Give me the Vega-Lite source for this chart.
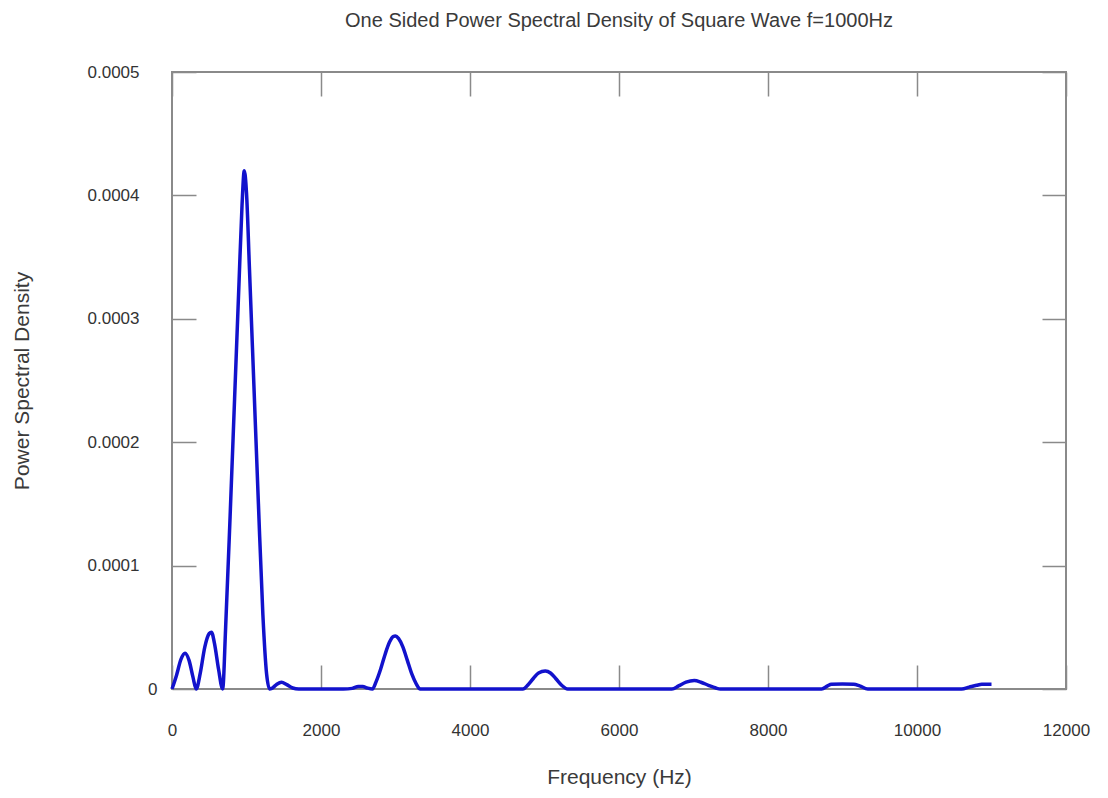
{
  "$schema": "https://vega.github.io/schema/vega-lite/v6.json",
  "width": 894,
  "height": 617,
  "autosize": {"type": "none"},
  "padding": {"left": 172, "top": 72, "right": 42, "bottom": 109},
  "background": "white",
  "title": {"text": "One Sided Power Spectral Density of Square Wave f=1000Hz", "fontSize": 20, "font": "Liberation Sans", "fontWeight": "normal", "color": "#3a3a3a", "offset": 32, "anchor": "middle"},
  "config": {
    "view": {"stroke": "#8a8a8a", "strokeWidth": 2},
    "axis": {"grid": false, "labelFont": "Liberation Sans", "titleFont": "Liberation Sans", "labelColor": "#333333", "titleColor": "#3a3a3a", "titleFontWeight": "normal", "domain": false, "tickColor": "#8a8a8a", "tickWidth": 1.5, "labelFlush": false}
  },
  "data": {"values": [
    {"f": 0, "psd": 0}, {"f": 60, "psd": 1.1e-5}, {"f": 120, "psd": 2.4e-5}, {"f": 175, "psd": 2.9e-5}, {"f": 230, "psd": 2.3e-5}, {"f": 280, "psd": 1.0e-5}, {"f": 325, "psd": 0},
    {"f": 380, "psd": 1.3e-5}, {"f": 440, "psd": 3.4e-5}, {"f": 500, "psd": 4.5e-5}, {"f": 530, "psd": 4.6e-5}, {"f": 570, "psd": 3.7e-5}, {"f": 625, "psd": 1.6e-5}, {"f": 680, "psd": 0},
    {"f": 720, "psd": 5e-5}, {"f": 780, "psd": 1.4e-4}, {"f": 840, "psd": 2.35e-4}, {"f": 900, "psd": 3.3e-4}, {"f": 940, "psd": 3.92e-4}, {"f": 970, "psd": 4.2e-4}, {"f": 1000, "psd": 4.02e-4},
    {"f": 1040, "psd": 3.4e-4}, {"f": 1100, "psd": 2.45e-4}, {"f": 1160, "psd": 1.5e-4}, {"f": 1220, "psd": 6e-5}, {"f": 1270, "psd": 1.2e-5}, {"f": 1310, "psd": 0},
    {"f": 1340, "psd": 5e-7}, {"f": 1400, "psd": 3.5e-6}, {"f": 1470, "psd": 5.5e-6}, {"f": 1540, "psd": 3.5e-6}, {"f": 1620, "psd": 8e-7}, {"f": 1700, "psd": 0},
    {"f": 2000, "psd": 0}, {"f": 2300, "psd": 0}, {"f": 2420, "psd": 5e-7}, {"f": 2500, "psd": 2e-6}, {"f": 2560, "psd": 2e-6}, {"f": 2620, "psd": 8e-7}, {"f": 2690, "psd": 0},
    {"f": 2740, "psd": 6e-6}, {"f": 2800, "psd": 1.6e-5}, {"f": 2860, "psd": 2.8e-5}, {"f": 2920, "psd": 3.8e-5}, {"f": 2970, "psd": 4.25e-5}, {"f": 3000, "psd": 4.3e-5},
    {"f": 3040, "psd": 4.1e-5}, {"f": 3100, "psd": 3.4e-5}, {"f": 3160, "psd": 2.3e-5}, {"f": 3220, "psd": 1.2e-5}, {"f": 3280, "psd": 4e-6}, {"f": 3330, "psd": 0},
    {"f": 3600, "psd": 0}, {"f": 4000, "psd": 0}, {"f": 4400, "psd": 0}, {"f": 4710, "psd": 0},
    {"f": 4780, "psd": 3.5e-6}, {"f": 4850, "psd": 8.5e-6}, {"f": 4920, "psd": 1.3e-5}, {"f": 5010, "psd": 1.45e-5}, {"f": 5080, "psd": 1.3e-5}, {"f": 5150, "psd": 8.5e-6}, {"f": 5230, "psd": 3e-6}, {"f": 5310, "psd": 0},
    {"f": 5600, "psd": 0}, {"f": 6000, "psd": 0}, {"f": 6400, "psd": 0}, {"f": 6710, "psd": 0},
    {"f": 6800, "psd": 2.5e-6}, {"f": 6900, "psd": 5.5e-6}, {"f": 7010, "psd": 6.8e-6}, {"f": 7100, "psd": 5.5e-6}, {"f": 7200, "psd": 3e-6}, {"f": 7300, "psd": 8e-7}, {"f": 7360, "psd": 0},
    {"f": 7800, "psd": 0}, {"f": 8200, "psd": 0}, {"f": 8720, "psd": 0},
    {"f": 8800, "psd": 2.5e-6}, {"f": 8850, "psd": 3.8e-6}, {"f": 9000, "psd": 4.1e-6}, {"f": 9150, "psd": 3.8e-6}, {"f": 9230, "psd": 2.5e-6}, {"f": 9340, "psd": 0},
    {"f": 9800, "psd": 0}, {"f": 10200, "psd": 0}, {"f": 10600, "psd": 0},
    {"f": 10700, "psd": 1.5e-6}, {"f": 10800, "psd": 3e-6}, {"f": 10870, "psd": 3.8e-6}, {"f": 11000, "psd": 3.8e-6}
  ]},
  "layer": [
    {
      "mark": {"type": "line", "color": "#1212cc", "strokeWidth": 3.5, "interpolate": "monotone"},
      "encoding": {
        "x": {"field": "f", "type": "quantitative", "scale": {"domain": [0, 12000], "nice": false},
              "axis": {"orient": "bottom", "values": [0, 2000, 4000, 6000, 8000, 10000, 12000], "format": "d", "labelFontSize": 17, "tickSize": -24, "labelPadding": 57, "title": "Frequency (Hz)", "titleFontSize": 21, "titlePadding": 28}},
        "y": {"field": "psd", "type": "quantitative", "scale": {"domain": [0, 0.0005], "nice": false},
              "axis": {"orient": "left", "values": [0, 0.0001, 0.0002, 0.0003, 0.0004, 0.0005], "format": ".4~f", "labelFontSize": 17, "tickSize": -24,
                       "labelPadding": {"condition": {"test": "datum.value == 0", "value": 39}, "value": 57},
                       "title": "Power Spectral Density", "titleFontSize": 21, "titlePadding": 55}}
      }
    },
    {
      "mark": {"type": "line", "opacity": 0},
      "encoding": {
        "x": {"field": "f", "type": "quantitative", "scale": {"domain": [0, 12000], "nice": false},
              "axis": {"orient": "top", "values": [0, 2000, 4000, 6000, 8000, 10000, 12000], "labels": false, "tickSize": -24, "title": null}},
        "y": {"field": "psd", "type": "quantitative", "scale": {"domain": [0, 0.0005], "nice": false},
              "axis": {"orient": "right", "values": [0, 0.0001, 0.0002, 0.0003, 0.0004, 0.0005], "labels": false, "tickSize": -24, "title": null}}
      }
    }
  ],
  "resolve": {"axis": {"x": "independent", "y": "independent"}}
}
